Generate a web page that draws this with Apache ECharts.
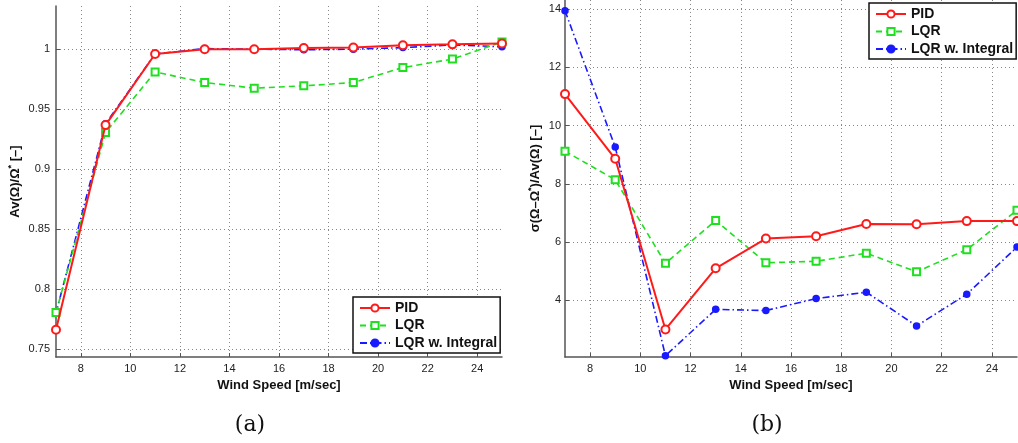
<!DOCTYPE html>
<html>
<head>
<meta charset="utf-8">
<script src="https://cdn.jsdelivr.net/npm/echarts@6/dist/echarts.min.js"></script>
<style>
  html, body { margin: 0; padding: 0; background: #fff; }
  #chart { width: 1018px; height: 443px; }
</style>
</head>
<body>
<div id="chart"></div>
<script>
// Wind speeds at which each controller was simulated [m/sec]
const windSpeed = [7, 9, 11, 13, 15, 17, 19, 21, 23, 25];

// (a) mean rotor speed normalised by the reference speed
const avgPID  = [0.766, 0.9367, 0.996, 1.000, 1.000, 1.001, 1.0013, 1.0033, 1.004, 1.0048];
const avgLQR  = [0.7805, 0.9305, 0.981, 0.9722, 0.9675, 0.9694, 0.9722, 0.9847, 0.9917, 1.006];
const avgLQRI = [0.780, 0.9378, 0.996, 1.0005, 1.000, 0.9995, 1.000, 1.0013, 1.0035, 1.002];

// (b) standard deviation of the speed error relative to the mean speed
const stdPID  = [11.08, 8.86, 3.00, 5.10, 6.12, 6.20, 6.62, 6.61, 6.72, 6.72];
const stdLQR  = [9.12, 8.14, 5.27, 6.74, 5.29, 5.34, 5.62, 4.98, 5.74, 7.09];
const stdLQRI = [13.94, 9.26, 2.10, 3.69, 3.65, 4.06, 4.28, 3.12, 4.21, 5.83];

// Tick positions
const xTicks  = [8, 10, 12, 14, 16, 18, 20, 22, 24];
const yTicksA = [0.75, 0.8, 0.85, 0.9, 0.95, 1];
const yTicksB = [4, 6, 8, 10, 12, 14];

const names = ['PID', 'LQR', 'LQR w. Integral'];
const FONT = '"Liberation Sans", Arial, Helvetica, sans-serif';
const AXIS_COLOR = '#555';
const GRID_LINE = { show: true, lineStyle: { type: [1, 3], color: '#888', width: 1 } };

function pairs(ys) { return windSpeed.map((x, i) => [x, ys[i]]); }

function xAxis(gridIndex) {
  return {
    type: 'value', gridIndex, min: 7, max: 25,
    name: 'Wind Speed [m/sec]', nameLocation: 'middle', nameGap: 19,
    nameTextStyle: { fontFamily: FONT, fontWeight: 'bold', fontSize: 13, color: '#111' },
    axisLine: { lineStyle: { color: AXIS_COLOR, width: 1.5 } },
    axisTick: { inside: true, length: 4, customValues: xTicks, lineStyle: { color: AXIS_COLOR } },
    axisLabel: { customValues: xTicks, fontFamily: FONT, fontSize: 11, color: '#222', margin: 6 },
    splitLine: GRID_LINE
  };
}

function yAxis(gridIndex, min, max, ticks, rich, nameGap, labelMargin) {
  return {
    type: 'value', gridIndex, min, max,
    name: rich, nameLocation: 'middle', nameGap,
    nameTextStyle: {
      fontFamily: FONT, fontWeight: 'bold', fontSize: 13, color: '#111',
      rich: {
        t: { fontFamily: FONT, fontWeight: 'bold', fontSize: 13, color: '#111' },
        s: { fontFamily: FONT, fontWeight: 'bold', fontSize: 9, color: '#111', padding: [0, 0, 7, 0] }
      }
    },
    axisLine: { show: true, lineStyle: { color: AXIS_COLOR, width: 1.5 } },
    axisTick: { show: true, inside: true, length: 4, customValues: ticks, lineStyle: { color: AXIS_COLOR } },
    axisLabel: { customValues: ticks, fontFamily: FONT, fontSize: 11, color: '#222', margin: labelMargin },
    splitLine: GRID_LINE
  };
}

const styles = [
  { color: '#ff1a1a', type: 'solid', symbol: 'emptyCircle', size: 8, width: 2 },
  { color: '#1ee01e', type: [6, 4], symbol: 'emptyRect', size: 7, width: 1.6 },
  { color: '#1a1aff', type: [7, 3, 1.5, 3], symbol: 'circle', size: 6, width: 1.6 }
];

function makeSeries(gridIdx, dataSets) {
  return dataSets.map((d, i) => ({
    name: names[i], type: 'line', xAxisIndex: gridIdx, yAxisIndex: gridIdx,
    data: pairs(d),
    symbol: styles[i].symbol, symbolSize: styles[i].size,
    lineStyle: { color: styles[i].color, width: styles[i].width, type: styles[i].type },
    itemStyle: { color: styles[i].color, borderColor: styles[i].color, borderWidth: 1.5 },
    z: 3 - i,
    clip: false
  }));
}

function legend(left, top) {
  return {
    data: names, orient: 'vertical', left, top,
    padding: [3, 3, 2, 6], itemGap: 1.5, itemWidth: 30, itemHeight: 9,
    borderColor: '#111', borderWidth: 1.5, backgroundColor: '#fff',
    textStyle: { fontFamily: FONT, fontWeight: 'bold', fontSize: 14, color: '#111', lineHeight: 16 },
    selectedMode: false
  };
}

const chart = echarts.init(document.getElementById('chart'), null, { renderer: 'canvas' });
chart.setOption({
  animation: false,
  backgroundColor: '#fff',
  grid: [
    { left: 56, top: 6, width: 446, height: 351, containLabel: false },
    { left: 565, top: 0, width: 452, height: 357, containLabel: false }
  ],
  xAxis: [xAxis(0), xAxis(1)],
  yAxis: [
    yAxis(0, 0.7433, 1.036, yTicksA, '{t|Av(Ω)/Ω}{s|*}{t| [–]}', 33, 6),
    yAxis(1, 2.055, 14.31, yTicksB, '{t|σ(Ω–Ω}{s|*}{t|)/Av(Ω) [–]}', 22, 4)
  ],
  legend: [legend(353, 297), legend(869, 3)],
  series: [].concat(
    makeSeries(0, [avgPID, avgLQR, avgLQRI]),
    makeSeries(1, [stdPID, stdLQR, stdLQRI])
  ),
  graphic: [
    { type: 'text', x: 250, y: 425, style: { text: '(a)', font: '22px "DejaVu Serif", serif', fill: '#111', align: 'center', verticalAlign: 'middle' } },
    { type: 'text', x: 767, y: 425, style: { text: '(b)', font: '22px "DejaVu Serif", serif', fill: '#111', align: 'center', verticalAlign: 'middle' } }
  ]
});
</script>
</body>
</html>
